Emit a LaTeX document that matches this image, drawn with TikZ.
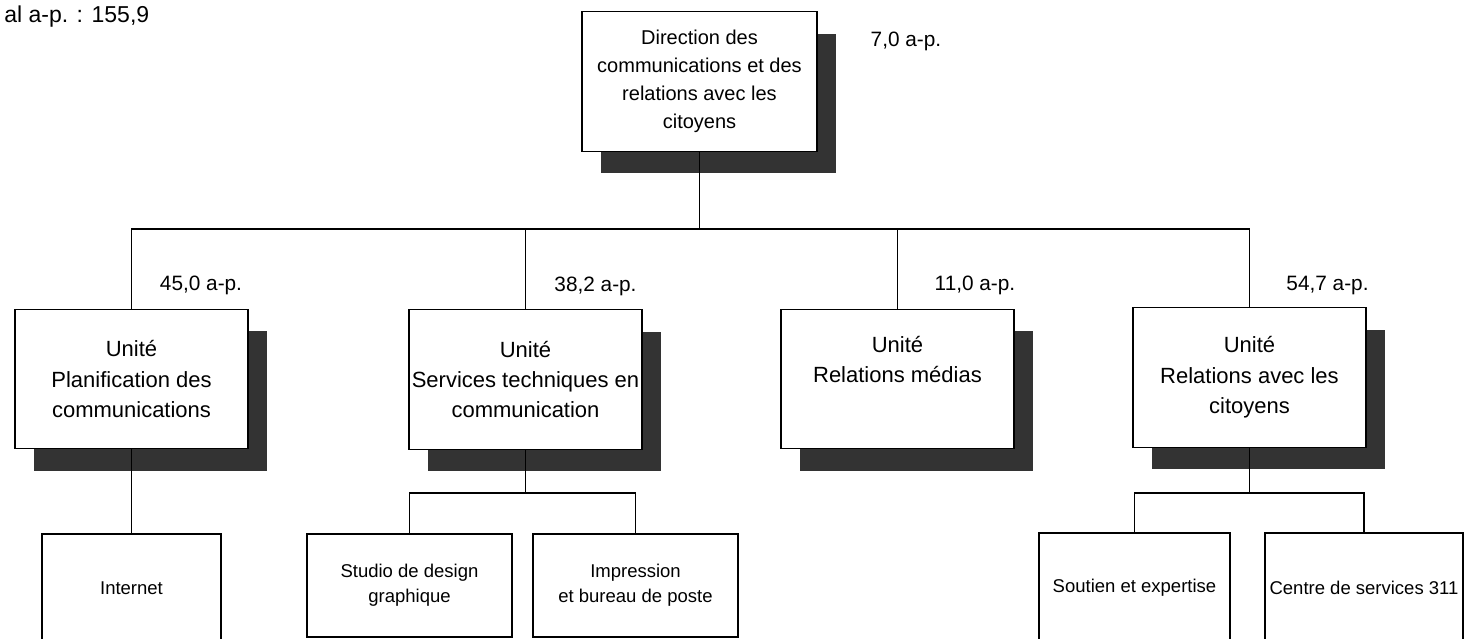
\documentclass[tikz,border=0pt]{standalone}
\usepackage{fontspec}
\setmainfont{Liberation Sans}
\usetikzlibrary{shadows}
\definecolor{shadowgray}{RGB}{51,51,51}

\begin{document}
\begin{tikzpicture}[x=0.5pt, y=-0.5pt, line width=0.65pt,
	orgbox/.style={draw, fill=white, align=center, inner sep=0pt},
	unitbox/.style={orgbox, minimum width=116.5pt, minimum height=69.75pt,
		font=\fontsize{11}{15.25}\selectfont,
		drop shadow={shadow xshift=9.25pt, shadow yshift=-11pt, opacity=1, fill=shadowgray}},
	leafbox/.style={orgbox, font=\fontsize{9.25}{12.5}\selectfont},
	fte/.style={anchor=base, font=\fontsize{10.4}{12}\selectfont}]
	\useasboundingbox (0,0) rectangle (1474,638);
	\clip (0,0) rectangle (1474,638);
	\node[fte, anchor=base west, font=\fontsize{11.5}{13}\selectfont] (total) at (-3,22) {al a-p. : 155,9};
	% direction
	\node[unitbox, minimum width=117.5pt, font=\fontsize{10}{14}\selectfont] (dir) at (699.5,81.5)
		{Direction des\\communications et des\\relations avec les\\citoyens};
	\node[fte] (dirfte) at (906,46) {7,0 a-p.};
	% unites
	\node[unitbox] (plan) at (131.5,379) {Unité\\Planification des\\communications};
	\node[unitbox] (serv) at (525.5,379.5) {Unité\\Services techniques en\\communication};
	\node[unitbox] (med) at (897.5,379) {Unité\\Relations médias\\\strut};
	\node[unitbox] (cit) at (1249.5,377.5) {Unité\\Relations avec les\\citoyens};
	\node[fte] (planfte) at (201,290) {45,0 a-p.};
	\node[fte] (servfte) at (595.5,291) {38,2 a-p.};
	\node[fte] (medfte) at (975,290) {11,0 a-p.};
	\node[fte] (citfte) at (1327.5,290) {54,7 a-p.};
	% sections
	\node[leafbox, minimum width=89.5pt, minimum height=54pt] (web) at (131.5,588) {Internet};
	\node[leafbox, minimum width=102.5pt, minimum height=51.5pt] (studio) at (409.5,585.5) {Studio de design\\graphique};
	\node[leafbox, minimum width=102.5pt, minimum height=51.5pt] (impr) at (635.5,585.5) {Impression\\et bureau de poste};
	\node[leafbox, minimum width=95.5pt, minimum height=54.5pt] (sout) at (1134.5,587.5) {Soutien et expertise};
	\node[leafbox, minimum width=99pt, minimum height=54.5pt] (ctr) at (1364,587.5) {Centre de services 311};
	% liens
	\coordinate (dirbar) at (699.5,229);
	\coordinate (servbar) at (525.5,493);
	\coordinate (citbar) at (1249.5,493);
	\draw (dir.south) -- (dirbar);
	\draw (plan.north) |- (dirbar) -| (cit.north);
	\draw (serv.north) -- (serv.north |- dirbar);
	\draw (med.north) -- (med.north |- dirbar);
	\draw (plan.south) -- (web.north);
	\draw (serv.south) -- (servbar);
	\draw (studio.north) |- (servbar) -| (impr.north);
	\draw (cit.south) -- (citbar);
	\draw (sout.north) |- (citbar) -| (ctr.north);
\end{tikzpicture}
\end{document}
